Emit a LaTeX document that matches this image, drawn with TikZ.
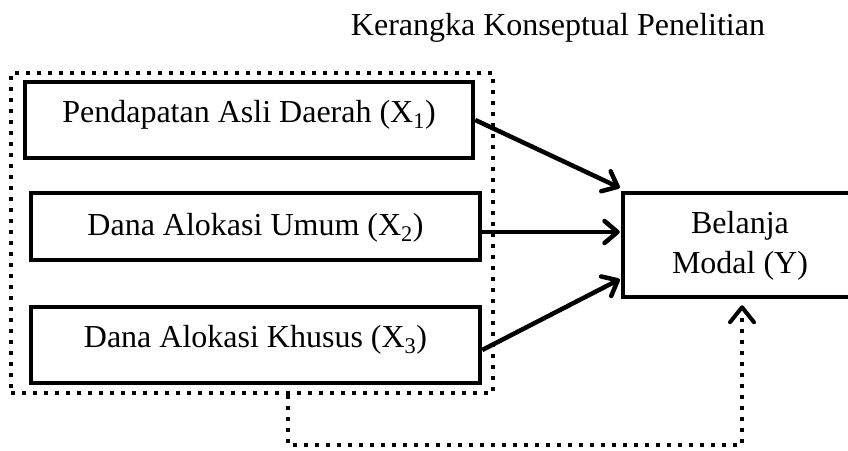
\documentclass[tikz,border=0pt]{standalone}
\usepackage{fontspec}
\setmainfont{Liberation Serif}
\usetikzlibrary{arrows.meta,calc}
\begin{document}
\begin{tikzpicture}[x=1pt,y=-1pt,
  box/.style={draw, line width=4.5pt, rectangle, inner sep=0pt},
  dotbox/.style={draw, line width=4pt, dash pattern=on 4pt off 7pt, rectangle, inner sep=0pt},
  txt/.style={font=\fontsize{32}{40}\selectfont, inner sep=0pt},
  arr/.style={line width=4.5pt, -{Straight Barb[length=13pt,width=22pt,round]}},
  dotarr/.style={line width=4pt, dash pattern=on 4pt off 7pt, -{Straight Barb[length=15pt,width=24pt,round]}}]
\useasboundingbox (0,0) rectangle (848,450);
\node[txt, anchor=base] (title) at (558,35) {Kerangka Konseptual Penelitian};
\node[dotbox, minimum width=482pt, minimum height=320pt] (grp) at (252,233) {};
\node[box, minimum width=448pt, minimum height=76pt] (x1) at (249,120) {};
\node[box, minimum width=449pt, minimum height=67pt] (x2) at (255.5,226.5) {};
\node[box, minimum width=449pt, minimum height=76pt] (x3) at (255.5,345) {};
\node[box, minimum width=300pt, minimum height=104pt] (y) at (773,245) {};
\node[txt, anchor=base] (t1) at ($(x1.center)+(0,2)$) {Pendapatan Asli Daerah (X\textsubscript{1})};
\node[txt, anchor=base] (t2) at ($(x2.center)+(0,8.5)$) {Dana Alokasi Umum (X\textsubscript{2})};
\node[txt, anchor=base] (t3) at ($(x3.center)+(0,2)$) {Dana Alokasi Khusus (X\textsubscript{3})};
\node[txt, align=center] (ty) at (740,246) {Belanja\\Modal (Y)};
\draw[arr] (x1.east) -- ($(y.north west)+(-1,-3)$);
\draw[arr] ($(x2.east)+(0,5.5)$) -- ($(y.west)+(-1,-13)$);
\draw[arr] ($(x3.east)+(0,5)$) -- ($(y.south west)+(-1,-20)$);
\draw[dotarr] ($(grp.south west)!0.575!(grp.south east)$) -- ++(0,50) -| ($(ty.center|-y.south)+(2,6)$);
\end{tikzpicture}
\end{document}
